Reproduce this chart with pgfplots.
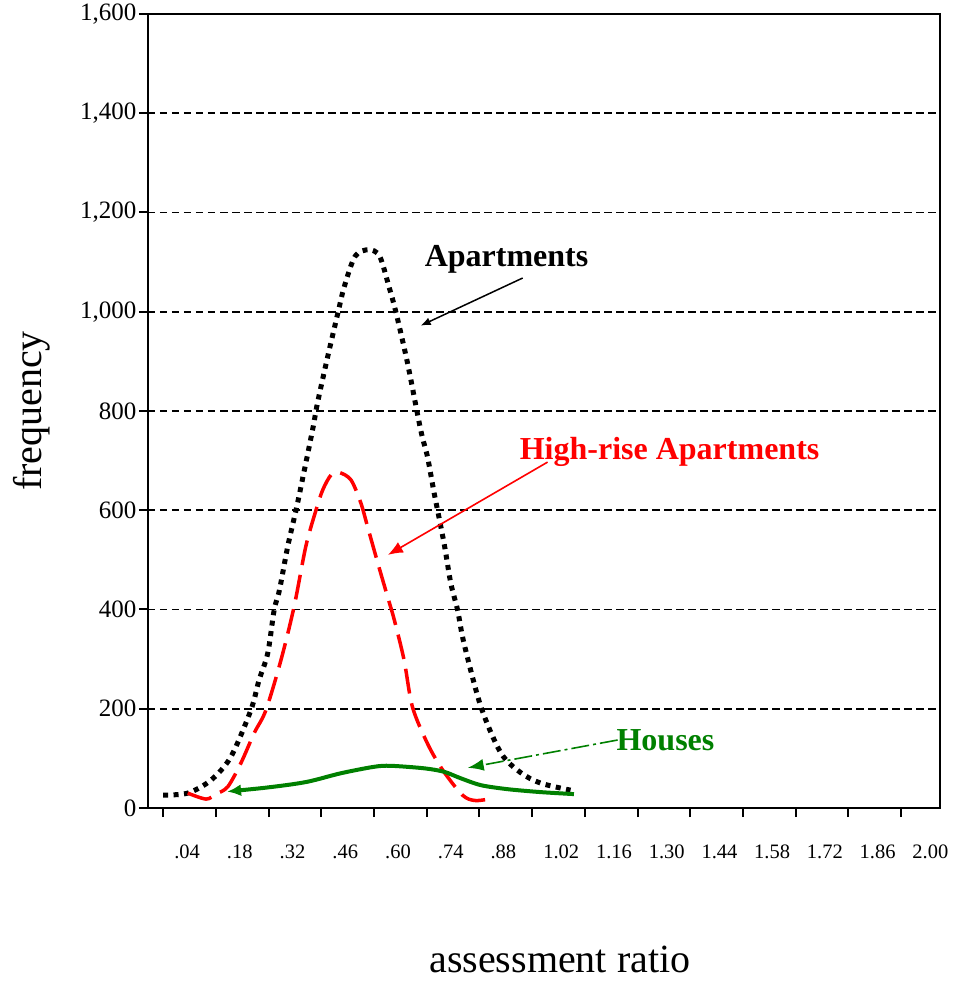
\documentclass[border=0pt]{standalone}
\usepackage{fontspec}
\setmainfont{Liberation Serif}
\usepackage{pgfplots}
\pgfplotsset{compat=1.18}
\usetikzlibrary{arrows.meta}
\definecolor{housegreen}{RGB}{0,128,0}
\begin{document}
\begin{tikzpicture}
\begin{axis}[
  scale only axis, width=792pt, height=794pt,
  xmin=0, xmax=2.103, ymin=0, ymax=1600,
  axis line style={line width=2.4pt},
  tick align=outside, major tick length=9pt,
  tick style={line width=2pt, black},
  xtick pos=bottom, ytick pos=left,
  xtick={0.04,0.18,0.32,0.46,0.60,0.74,0.88,1.02,1.16,1.30,1.44,1.58,1.72,1.86,2.00},
  xticklabels={.04,.18,.32,.46,.60,.74,.88,1.02,1.16,1.30,1.44,1.58,1.72,1.86,2.00},
  xticklabel style={font=\fontsize{20.5}{24}\selectfont, anchor=north west, inner xsep=0pt, xshift=11pt, yshift=-24pt},
  ytick={0,200,...,1600},
  yticklabel style={font=\fontsize{25}{28}\selectfont, xshift=1pt},
  /pgf/number format/.cd, 1000 sep={,}, assume math mode=true, /pgfplots/.cd,
  ymajorgrids, xmajorgrids=false,
  major grid style={black, line width=1.8pt, dash pattern=on 7.5pt off 4.5pt},
  xlabel={assessment ratio}, ylabel={frequency},
  label style={font=\fontsize{40}{44}\selectfont},
  xlabel style={at={(axis description cs:0.52,-0.207)}, anchor=base},
  ylabel style={at={(axis description cs:-0.1345,0.5)}, anchor=base},
  clip=false,
]
% Apartments
\addplot[black, line width=5pt, dash pattern=on 5pt off 5.5pt, smooth] coordinates {
 (0.040,26) (0.1055,30) (0.167,56) (0.220,103) (0.273,197) (0.295,258) (0.318,312)
 (0.335,399) (0.349,439) (0.371,527) (0.393,600) (0.406,647) (0.437,762) (0.450,816)
 (0.477,909) (0.505,1000) (0.521,1050) (0.550,1112) (0.586,1125) (0.615,1112)
 (0.640,1050) (0.658,1000) (0.689,897) (0.724,762) (0.742,708) (0.760,634) (0.786,534)
 (0.804,453) (0.822,399) (0.839,332) (0.884,204) (0.937,111) (0.990,71)
 (1.043,50) (1.122,36)};
% High-rise Apartments
\addplot[red, line width=3.5pt, dash pattern=on 25pt off 10pt, smooth] coordinates {
 (0.1055,30) (0.154,18) (0.181,28) (0.212,43) (0.247,91) (0.282,151) (0.313,197)
 (0.353,298) (0.388,406) (0.419,527) (0.446,600) (0.464,641) (0.486,671) (0.508,676)
 (0.539,661) (0.565,615) (0.583,567) (0.610,494) (0.636,426) (0.654,379) (0.680,298)
 (0.702,204) (0.742,130) (0.782,77) (0.835,26) (0.870,15) (0.919,20)};
% Houses
\addplot[housegreen, line width=4pt, smooth, {Latex[length=14pt,width=12pt]}-] coordinates {
 (0.210,33) (0.335,43) (0.424,53) (0.512,70) (0.600,83) (0.645,85) (0.733,80)
 (0.786,73) (0.830,60) (0.884,46) (0.954,38) (1.043,32) (1.131,28)};
% annotations
\node[font=\fontsize{32}{36}\selectfont\bfseries, black] at (axis cs:0.952,1105) {Apartments};
\draw[black, line width=1.5pt, -{Latex[length=10pt,width=8pt]}] (axis cs:0.995,1068) -- (axis cs:0.724,972);
\node[font=\fontsize{32}{36}\selectfont\bfseries, red] at (axis cs:1.385,718) {High-rise Apartments};
\draw[red, line width=1.6pt, -{Latex[length=15pt,width=12pt]}] (axis cs:1.061,697) -- (axis cs:0.637,510);
\node[font=\fontsize{32}{36}\selectfont\bfseries, housegreen] at (axis cs:1.374,137) {Houses};
\draw[housegreen, line width=1.6pt, dash pattern=on 18pt off 4pt on 3pt off 4pt, -{Latex[length=16pt,width=12pt]}] (axis cs:1.247,137) -- (axis cs:0.849,81);
\end{axis}
\pgfresetboundingbox
\path[use as bounding box] ([shift={(-148pt,-173pt)}]current axis.south west) rectangle ([shift={(18pt,14pt)}]current axis.north east);
\end{tikzpicture}
\end{document}
